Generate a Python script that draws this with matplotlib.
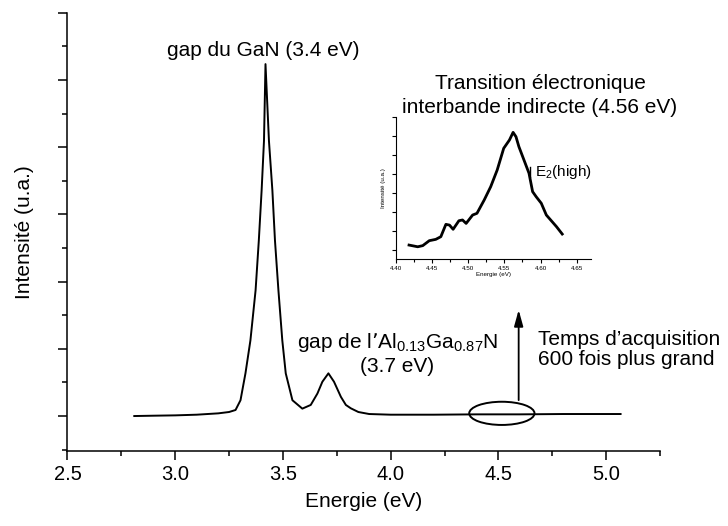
import matplotlib
matplotlib.use("Agg")
import matplotlib.pyplot as plt
from matplotlib.patches import Ellipse

plt.rcParams['font.family'] = ['Liberation Sans', 'DejaVu Sans']
plt.rcParams['mathtext.default'] = 'regular'

# main spectrum
energy = [2.81, 2.9, 3.0, 3.1, 3.2, 3.25, 3.28, 3.303, 3.326, 3.349, 3.373, 3.388,
          3.401, 3.412, 3.419, 3.435, 3.451, 3.463, 3.479, 3.497, 3.513, 3.544,
          3.59, 3.629, 3.66, 3.683, 3.711, 3.737, 3.769, 3.792, 3.815, 3.85, 3.9,
          4.0, 4.2, 4.4, 4.6, 4.8, 5.0, 5.067]
intensity = [0.0, 0.01, 0.02, 0.04, 0.08, 0.12, 0.18, 0.47, 1.27, 2.25, 3.74, 5.22,
             6.71, 8.19, 10.47, 8.19, 6.71, 5.22, 3.74, 2.25, 1.27, 0.47,
             0.22, 0.33, 0.67, 1.02, 1.27, 1.02, 0.57, 0.33, 0.23, 0.12, 0.06,
             0.04, 0.04, 0.05, 0.05, 0.06, 0.06, 0.06]

# inset spectrum (long acquisition)
energy_in = [4.418, 4.43, 4.437, 4.446, 4.455, 4.462, 4.469, 4.474, 4.479, 4.487,
             4.492, 4.497, 4.506, 4.512, 4.522, 4.531, 4.54, 4.549, 4.557, 4.562,
             4.566, 4.57, 4.577, 4.584, 4.589, 4.594, 4.601, 4.608, 4.622, 4.63]
intensity_in = [0.75, 0.66, 0.72, 0.98, 1.05, 1.19, 1.84, 1.8, 1.58, 2.03,
                2.07, 1.89, 2.33, 2.42, 3.12, 3.82, 4.7, 5.84, 6.28, 6.68,
                6.45, 5.93, 5.23, 4.53, 3.56, 3.29, 2.95, 2.33, 1.72, 1.33]

xticks = [2.5, 3.0, 3.5, 4.0, 4.5, 5.0]
xticks_in = [4.40, 4.45, 4.50, 4.55, 4.60, 4.65]

fig = plt.figure(figsize=(7.28, 5.26), dpi=100)
ax = fig.add_axes([0.0927, 0.1426, 0.8139, 0.8333])

ax.plot(energy, intensity, color='k', lw=1.4)
ax.set_xlim(2.5, 5.25)
ax.set_ylim(-1.04, 12)
ax.set_xticks(xticks)
ax.set_xticklabels(['%.1f' % v for v in xticks])
ax.set_xticks([2.75, 3.25, 3.75, 4.25, 4.75, 5.25], minor=True)
ax.set_yticks([0, 2, 4, 6, 8, 10, 12])
ax.set_yticks([-1, 1, 3, 5, 7, 9, 11], minor=True)
ax.set_yticklabels([])
ax.spines['top'].set_visible(False)
ax.spines['right'].set_visible(False)
for s in ['left', 'bottom']:
    ax.spines[s].set_linewidth(1.1)
ax.tick_params(which='major', direction='out', length=6.5, width=1.1, labelsize=14.5)
ax.tick_params(which='minor', direction='out', length=3.6, width=1.1)
ax.set_xlabel('Energie (eV)', fontsize=15, labelpad=6)
ax.set_ylabel('Intensité (u.a.)', fontsize=15, labelpad=14)

ax.text(3.41, 10.71, 'gap du GaN (3.4 eV)', ha='center', va='baseline', fontsize=15)
ax.text(4.03, 2.02, 'gap de l’Al$_{0.13}$Ga$_{0.87}$N', ha='center', va='baseline', fontsize=15)
ax.text(4.03, 1.31, '(3.7 eV)', ha='center', va='baseline', fontsize=15)
ax.text(4.684, 1.97, 'Temps d’acquisition\n600 fois plus grand', ha='left', va='center',
        fontsize=15, linespacing=1.05)

ax.add_patch(Ellipse((4.516, 0.08), 0.303, 0.69, fill=False, lw=1.4, color='k'))
ax.annotate('', xy=(4.594, 3.24), xytext=(4.594, 0.39),
            arrowprops=dict(arrowstyle='-|>,head_length=0.65,head_width=0.18',
                            lw=1.3, color='k', mutation_scale=15))

# inset
axi = fig.add_axes([0.544, 0.507, 0.268, 0.271])
axi.plot(energy_in, intensity_in, color='k', lw=2.0)
axi.set_xlim(4.4, 4.67)
axi.set_ylim(0, 7.5)
axi.set_xticks(xticks_in)
axi.set_xticklabels(['%.2f' % v for v in xticks_in])
axi.set_xticks([4.425, 4.475, 4.525, 4.575, 4.625], minor=True)
axi.set_yticks([0.5, 1.5, 2.5, 3.5, 4.5, 5.5, 6.5, 7.5])
axi.set_yticklabels([])
axi.spines['top'].set_visible(False)
axi.spines['right'].set_visible(False)
axi.tick_params(which='major', direction='out', length=3, width=0.8, labelsize=4.5, pad=1.5)
axi.tick_params(which='minor', direction='out', length=1.8, width=0.8)
axi.set_xlabel('Energie (eV)', fontsize=4.5, labelpad=1)
axi.set_ylabel('Intensité (u.a.)', fontsize=4.5, labelpad=3)
axi.plot([4.585, 4.585], [4.35, 4.87], color='k', lw=1.0)
axi.text(4.5925, 4.6, 'E$_2$(high)', ha='left', va='center', fontsize=11)

fig.text(540 / 728, 1 - 89 / 526, 'Transition électronique', ha='center', va='baseline', fontsize=15)
fig.text(540 / 728, 1 - 113 / 526, 'interbande indirecte (4.56 eV)', ha='center', va='baseline', fontsize=15)

fig.savefig('out.png', dpi=100)
